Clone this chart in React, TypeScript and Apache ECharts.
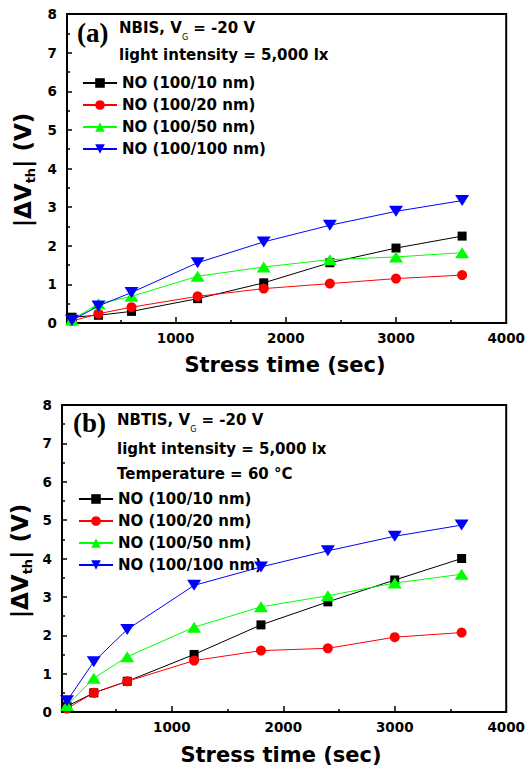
import React, { useEffect, useRef } from "react";
import * as echarts from "echarts";

const times = [60, 300, 600, 1200, 1800, 2400, 3000, 3600];
const seriesNames = ["NO (100/10 nm)", "NO (100/20 nm)", "NO (100/50 nm)", "NO (100/100 nm)"];
// panel (a) NBIS
const aNO10 = [0.15, 0.2, 0.3, 0.63, 1.04, 1.56, 1.94, 2.25];
const aNO20 = [0.05, 0.24, 0.41, 0.69, 0.89, 1.02, 1.15, 1.24];
const aNO50 = [0.08, 0.5, 0.69, 1.21, 1.45, 1.64, 1.71, 1.82];
const aNO100 = [0.07, 0.44, 0.79, 1.56, 2.1, 2.53, 2.89, 3.17];
// panel (b) NBTIS
const bNO10 = [0.15, 0.5, 0.8, 1.5, 2.27, 2.87, 3.44, 4.0];
const bNO20 = [0.09, 0.5, 0.8, 1.34, 1.6, 1.66, 1.95, 2.07];
const bNO50 = [0.17, 0.88, 1.44, 2.21, 2.74, 3.03, 3.36, 3.59];
const bNO100 = [0.29, 1.31, 2.15, 3.3, 3.78, 4.2, 4.58, 4.87];

const xMajorTicks = [1000, 2000, 3000, 4000];
const xMinorTicks = [500, 1500, 2500, 3500];

const colors = ["#000000", "#ff0000", "#00ff00", "#0000ff"];
const symbols = ["rect", "circle", "triangle", "path://M0,0L2,0L1,1.5Z"];
const symbolSizes: any[] = [9, 10, [14, 11], [14, 11]];

const SANS = "DejaVu Sans";

export default function App() {
  const ref = useRef<HTMLDivElement>(null);
  useEffect(() => {
    if (!ref.current) return;
    const chart = echarts.init(ref.current, null, { renderer: "svg" });

    const grids = [
      { left: 67, top: 14, width: 442, height: 309 },
      { left: 62, top: 405, width: 445.5, height: 307 },
    ];
    const xMins = [15, 15];

    const xAxes: any[] = [];
    const yAxes: any[] = [];
    grids.forEach((g, i) => {
      xAxes.push({
        type: "value",
        gridIndex: i,
        min: xMins[i],
        max: 4000,
        axisLine: { show: true, lineStyle: { color: "#000", width: 2 } },
        axisTick: { show: true, inside: true, length: 3, customValues: xMinorTicks, lineStyle: { color: "#000", width: 1.5 } },
        axisLabel: {
          customValues: xMajorTicks,
          formatter: (v: number) => String(v),
          margin: 8,
          color: "#000",
          fontFamily: SANS,
          fontWeight: "bold",
          fontSize: 13.5,
        },
        splitLine: { show: false },
      });
      xAxes.push({
        type: "value",
        gridIndex: i,
        min: xMins[i],
        max: 4000,
        position: "bottom",
        axisLine: { show: false },
        axisTick: { show: true, inside: true, length: 6, customValues: [1000, 2000, 3000], lineStyle: { color: "#000", width: 1.5 } },
        axisLabel: { show: false },
        splitLine: { show: false },
      });
      yAxes.push({
        type: "value",
        gridIndex: i,
        min: 0,
        max: 8,
        interval: 1,
        axisLine: { show: true, lineStyle: { color: "#000", width: 2 } },
        axisTick: { show: true, inside: true, length: 5, lineStyle: { color: "#000", width: 1.5 } },
        minorTick: { show: true, splitNumber: 2, length: 3, lineStyle: { color: "#000", width: 1.5 } },
        axisLabel: {
          margin: 10,
          color: "#000",
          fontFamily: SANS,
          fontWeight: "bold",
          fontSize: 13.5,
        },
        splitLine: { show: false },
        minorSplitLine: { show: false },
      });
    });

    const panelData = [
      [aNO10, aNO20, aNO50, aNO100],
      [bNO10, bNO20, bNO50, bNO100],
    ];
    const series: any[] = [];
    panelData.forEach((arrs, p) => {
      arrs.forEach((vals, k) => {
        series.push({
          type: "line",
          name: seriesNames[k],
          xAxisIndex: p * 2,
          yAxisIndex: p,
          data: times.map((t, j) => [t, vals[j]]),
          symbol: symbols[k],
          symbolSize: symbolSizes[k],
          showAllSymbol: true,
          lineStyle: { color: colors[k], width: 1 },
          itemStyle: { color: colors[k] },
          z: 2 + k,
        });
      });
    });

    const legendBase = {
      orient: "vertical",
      padding: 0,
      itemWidth: 34,
      itemHeight: 12,
      itemGap: 6,
      selectedMode: false,
      data: seriesNames,
      textStyle: { color: "#000", fontFamily: SANS, fontWeight: "bold", fontSize: 15, lineHeight: 16 },
    };

    const txt = (x: number, y: number, text: string, extra: any = {}) => ({
      type: "text",
      x,
      y,
      style: {
        text,
        fill: "#000",
        fontFamily: SANS,
        fontWeight: "bold",
        fontSize: 15,
        verticalAlign: "middle",
        align: "left",
        ...extra,
      },
    });

    const vgRich = {
      n: { fontFamily: SANS, fontWeight: "bold", fontSize: 15, lineHeight: 26, fill: "#000" },
      g: { fontFamily: SANS, fontWeight: "normal", fontSize: 8, lineHeight: 8, verticalAlign: "bottom", fill: "#000" },
    };
    const yRich = {
      n: { fontFamily: SANS, fontWeight: "bold", fontSize: 23, lineHeight: 28, fill: "#000" },
      s: { fontFamily: SANS, fontWeight: "bold", fontSize: 13, lineHeight: 13, verticalAlign: "bottom", fill: "#000" },
    };

    const graphic: any[] = [
      txt(77, 33, "(a)", { fontFamily: "Liberation Serif", fontSize: 27 }),
      txt(119, 28, "{n|NBIS, V}{g|G}{n| = -20 V}", { rich: vgRich }),
      txt(119, 55, "light intensity = 5,000 lx"),
      txt(285, 365, "Stress time (sec)", { fontSize: 21, align: "center" }),
      { ...txt(23, 170, "{n||ΔV}{s|th}{n|| (V)}", { align: "center", rich: yRich }), rotation: Math.PI / 2 },

      txt(73, 423, "(b)", { fontFamily: "Liberation Serif", fontSize: 27 }),
      txt(117, 420, "{n|NBTIS, V}{g|G}{n| = -20 V}", { rich: vgRich }),
      txt(117, 449, "light intensity = 5,000 lx"),
      txt(117, 474, "Temperature = 60 °C"),
      txt(281, 755, "Stress time (sec)", { fontSize: 21, align: "center" }),
      { ...txt(20, 561, "{n||ΔV}{s|th}{n|| (V)}", { align: "center", rich: yRich }), rotation: Math.PI / 2 },
    ];

    chart.setOption({
      animation: false,
      backgroundColor: "#ffffff",
      grid: grids.map((g) => ({ ...g, show: true, borderColor: "#000", borderWidth: 2, backgroundColor: "transparent" })),
      xAxis: xAxes,
      yAxis: yAxes,
      legend: [
        { ...legendBase, left: 82, top: 75 },
        { ...legendBase, left: 78, top: 491 },
      ],
      series,
      graphic,
    });

    return () => chart.dispose();
  }, []);

  return (
    <div
      ref={ref}
      style={{ position: "fixed", left: 0, top: 0, width: 528, height: 769, background: "#fff" }}
    />
  );
}
